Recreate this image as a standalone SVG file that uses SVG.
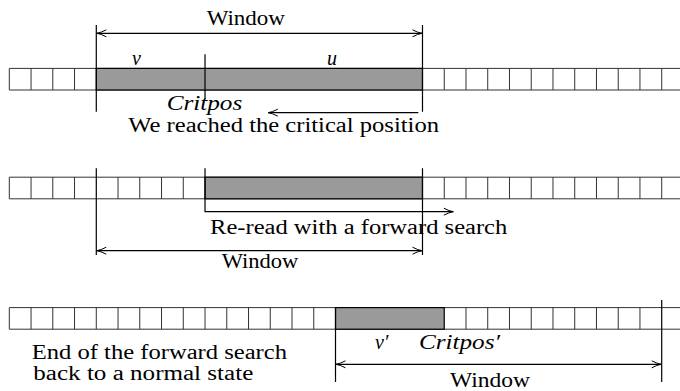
<svg xmlns="http://www.w3.org/2000/svg" width="680" height="391" viewBox="0 0 680 391">
<style>
.cell{fill:none;stroke:#333;stroke-width:1}
.blk{fill:#9a9a9a;stroke:#000;stroke-width:1.2}
.ln{fill:none;stroke:#000;stroke-width:1.2}
text{font-family:'Times New Roman',Times,'Liberation Serif','DejaVu Serif',serif;font-size:20px;fill:#000}
.m{font-style:italic}
</style>
<defs>
<marker id="ah" viewBox="-10 -5 11 10" refX="0" refY="0" markerWidth="11" markerHeight="10" markerUnits="userSpaceOnUse" orient="auto-start-reverse">
<path d="M-9.5,-3.5 Q-4,-0.6 0,0 Q-4,0.6 -9.5,3.5" fill="none" stroke="#000" stroke-width="1"/>
</marker>
</defs>
<g id="row1">
<path class="cell" d="M9.3 68.4H680M9.3 90H680M9.3 68.4V90M31.05 68.4V90M52.79 68.4V90M74.54 68.4V90M444.24 68.4V90M465.99 68.4V90M487.73 68.4V90M509.48 68.4V90M531.23 68.4V90M552.98 68.4V90M574.72 68.4V90M596.47 68.4V90M618.22 68.4V90M639.96 68.4V90M661.71 68.4V90"/>
<rect class="blk" x="96.29" y="68.4" width="326.2" height="21.6"/>
</g>
<g id="row2">
<path class="cell" d="M9.3 177.2H680M9.3 198.8H680M9.3 177.2V198.8M31.05 177.2V198.8M52.79 177.2V198.8M74.54 177.2V198.8M118.04 177.2V198.8M139.78 177.2V198.8M161.53 177.2V198.8M183.28 177.2V198.8M444.24 177.2V198.8M465.99 177.2V198.8M487.73 177.2V198.8M509.48 177.2V198.8M531.23 177.2V198.8M552.98 177.2V198.8M574.72 177.2V198.8M596.47 177.2V198.8M618.22 177.2V198.8M639.96 177.2V198.8M661.71 177.2V198.8"/>
<rect class="blk" x="205.02" y="177.2" width="217.47" height="21.6"/>
</g>
<g id="row3">
<path class="cell" d="M9.3 307.6H680M9.3 329.2H680M9.3 307.6V329.2M31.05 307.6V329.2M52.79 307.6V329.2M74.54 307.6V329.2M96.29 307.6V329.2M118.04 307.6V329.2M139.78 307.6V329.2M161.53 307.6V329.2M183.28 307.6V329.2M205.02 307.6V329.2M226.77 307.6V329.2M248.52 307.6V329.2M270.26 307.6V329.2M292.01 307.6V329.2M313.76 307.6V329.2M465.99 307.6V329.2M487.73 307.6V329.2M509.48 307.6V329.2M531.23 307.6V329.2M552.98 307.6V329.2M574.72 307.6V329.2M596.47 307.6V329.2M618.22 307.6V329.2M639.96 307.6V329.2"/>
<rect class="blk" x="335.51" y="307.6" width="108.73" height="21.6"/>
</g>
<g id="connectors">
<path class="ln" d="M96.29 25V111.7M422.49 25V111.7M205.02 54.3V99.3"/>
<line class="ln" x1="96.8" y1="33.3" x2="422" y2="33.3" marker-start="url(#ah)" marker-end="url(#ah)"/>
<line class="ln" x1="418.3" y1="112.7" x2="268.3" y2="112.7" marker-end="url(#ah)"/>
<path class="ln" d="M96.29 168.3V255M422.49 168.3V255"/>
<path class="ln" d="M205.02 168.3V211.7H453.3" marker-end="url(#ah)"/>
<line class="ln" x1="96.8" y1="250.7" x2="422" y2="250.7" marker-start="url(#ah)" marker-end="url(#ah)"/>
<path class="ln" d="M335.51 307.6V382M661.71 300V382"/>
<line class="ln" x1="336" y1="364.3" x2="661.2" y2="364.3" marker-start="url(#ah)" marker-end="url(#ah)"/>
</g>
<g id="labels">
<text x="206.7" y="25" textLength="78.3" lengthAdjust="spacingAndGlyphs">Window</text>
<text class="m" x="132" y="65">v</text>
<text class="m" x="327" y="65">u</text>
<text class="m" x="166.7" y="110" textLength="75.6" lengthAdjust="spacingAndGlyphs">Critpos</text>
<text x="128.3" y="132" textLength="310.7" lengthAdjust="spacingAndGlyphs">We reached the critical position</text>
<text x="210" y="234" textLength="297.3" lengthAdjust="spacingAndGlyphs">Re-read with a forward search</text>
<text x="221.7" y="268.3" textLength="76.6" lengthAdjust="spacingAndGlyphs">Window</text>
<text x="31.7" y="359" textLength="255.3" lengthAdjust="spacingAndGlyphs">End of the forward search</text>
<text x="33.3" y="380" textLength="220" lengthAdjust="spacingAndGlyphs">back to a normal state</text>
<text class="m" x="375" y="349">v′</text>
<text class="m" x="419" y="349" textLength="81" lengthAdjust="spacingAndGlyphs">Critpos′</text>
<text x="450" y="387" textLength="80" lengthAdjust="spacingAndGlyphs">Window</text>
</g>
</svg>
